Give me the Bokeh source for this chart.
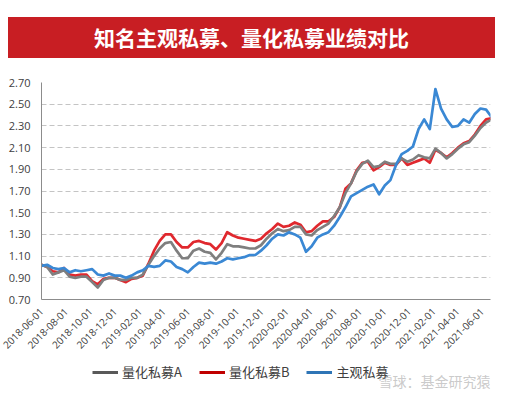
import pandas as pd
from bokeh.plotting import figure
from bokeh.models import (Range1d, FixedTicker, NumeralTickFormatter, Legend,
                          LegendItem, Label, Div)
from bokeh.layouts import column
from bokeh.embed import file_html
from bokeh.resources import INLINE

title = "知名主观私募、量化私募业绩对比"
series_names = ["量化私募A", "量化私募B", "主观私募"]
watermark = "雪球：基金研究猿"

# observation dates (fortnightly)
dates = pd.date_range("2018-06-01", periods=81, freq="14D")

quant_a = [1.02, 1.00, 0.93, 0.95, 0.97, 0.91, 0.90, 0.91, 0.91, 0.86,
           0.81, 0.88, 0.90, 0.90, 0.88, 0.88, 0.90, 0.90, 0.93, 1.02,
           1.10, 1.17, 1.22, 1.23, 1.15, 1.08, 1.08, 1.15, 1.17, 1.14,
           1.13, 1.07, 1.13, 1.21, 1.19, 1.19, 1.18, 1.17, 1.17, 1.20,
           1.26, 1.31, 1.35, 1.33, 1.34, 1.37, 1.37, 1.30, 1.29, 1.34,
           1.37, 1.40, 1.47, 1.55, 1.68, 1.77, 1.88, 1.95, 1.98, 1.92,
           1.93, 1.97, 1.95, 1.95, 2.00, 1.97, 1.99, 2.03, 2.01, 2.00,
           2.09, 2.05, 2.00, 2.04, 2.09, 2.13, 2.15, 2.21, 2.28, 2.33, 2.36]

quant_b = [1.02, 1.00, 0.96, 0.95, 0.99, 0.93, 0.92, 0.93, 0.93, 0.87,
           0.84, 0.89, 0.90, 0.90, 0.88, 0.86, 0.89, 0.90, 0.92, 1.03,
           1.15, 1.24, 1.30, 1.30, 1.23, 1.18, 1.18, 1.23, 1.24, 1.22,
           1.21, 1.16, 1.22, 1.32, 1.29, 1.27, 1.26, 1.25, 1.24, 1.26,
           1.31, 1.35, 1.40, 1.37, 1.38, 1.41, 1.39, 1.32, 1.33, 1.38,
           1.42, 1.42, 1.46, 1.55, 1.72, 1.77, 1.89, 1.96, 1.97, 1.89,
           1.92, 1.96, 1.94, 1.94, 2.00, 1.94, 1.96, 1.98, 2.00, 1.96,
           2.08, 2.05, 2.01, 2.05, 2.10, 2.14, 2.16, 2.22, 2.30, 2.36, 2.37]

subjective = [1.01, 1.02, 0.99, 0.98, 0.99, 0.95, 0.97, 0.96, 0.97, 0.98,
              0.93, 0.92, 0.94, 0.92, 0.92, 0.90, 0.92, 0.95, 0.97, 1.01,
              1.00, 1.01, 1.06, 1.05, 1.00, 0.98, 0.95, 1.00, 1.04, 1.03,
              1.04, 1.03, 1.05, 1.08, 1.07, 1.08, 1.09, 1.11, 1.11, 1.15,
              1.20, 1.26, 1.30, 1.29, 1.32, 1.30, 1.27, 1.14, 1.19, 1.27,
              1.30, 1.32, 1.38, 1.46, 1.55, 1.65, 1.68, 1.71, 1.74, 1.76,
              1.67, 1.75, 1.80, 1.94, 2.04, 2.07, 2.11, 2.27, 2.36, 2.27,
              2.64, 2.46, 2.36, 2.29, 2.30, 2.36, 2.33, 2.41, 2.46, 2.45, 2.38]

x_tick_labels = ["2018-06-01", "2018-08-01", "2018-10-01", "2018-12-01",
                 "2019-02-01", "2019-04-01", "2019-06-01", "2019-08-01",
                 "2019-10-01", "2019-12-01", "2020-02-01", "2020-04-01",
                 "2020-06-01", "2020-08-01", "2020-10-01", "2020-12-01",
                 "2021-02-01", "2021-04-01", "2021-06-01"]
y_ticks = [0.70, 0.90, 1.10, 1.30, 1.50, 1.70, 1.90, 2.10, 2.30, 2.50, 2.70]

line_colors = ["#7F7F7F", "#E0282E", "#3A88D4"]
legend_colors = ["#595959", "#C00000", "#2E75B6"]

# ---- title banner ----
banner = Div(
    text=('<div style="margin:17px 0 0 8px;width:487px;height:41px;'
          'background:#C81E23;color:#ffffff;font-family:\'Noto Sans CJK SC\';'
          'font-weight:bold;font-size:21px;line-height:41px;text-align:center;">'
          + title + '</div>'),
    width=500, height=58, margin=0)

# ---- main chart ----
x_start = pd.Timestamp("2018-06-01")
x_end = pd.Timestamp("2021-06-22")

p = figure(width=500, height=300, x_axis_type="datetime",
           x_range=Range1d(x_start, x_end), y_range=Range1d(0.70, 2.70),
           output_backend="svg", toolbar_location=None,
           min_border_left=41, min_border_right=10, min_border_top=24,
           min_border_bottom=59)
p.outline_line_color = None
p.background_fill_color = "white"
p.border_fill_color = "white"

tick_ts = pd.to_datetime(x_tick_labels)
tick_ms = [float(t.value // 10**6) for t in tick_ts]
p.xaxis.ticker = FixedTicker(ticks=tick_ms)
p.xaxis.major_label_overrides = {ms: lab for ms, lab in zip(tick_ms, x_tick_labels)}
p.xaxis.major_label_orientation = 0.785398
p.yaxis.ticker = FixedTicker(ticks=y_ticks)
p.yaxis.formatter = NumeralTickFormatter(format="0.00")

for ax in (p.xaxis, p.yaxis):
    ax.axis_line_color = "#8C8C8C"
    ax.axis_line_width = 1
    ax.major_tick_line_color = None
    ax.minor_tick_line_color = None
    ax.major_label_text_font = "Open Sans"
    ax.major_label_text_color = "#404040"
p.yaxis.major_label_text_font_size = "11px"
p.xaxis.major_label_text_font_size = "10px"
p.yaxis.major_label_standoff = 5
p.xaxis.major_label_standoff = 4

p.xgrid.grid_line_color = None
p.ygrid.grid_line_color = "#C4C4C4"
p.ygrid.grid_line_dash = "5 3"
p.ygrid.grid_line_width = 1

series = [quant_a, quant_b, subjective]
for idx in [1, 0, 2]:
    p.line(dates, series[idx], line_color=line_colors[idx], line_width=2.7,
           line_join="round")

# ---- legend strip ----
lg = figure(width=500, height=37, x_range=Range1d(0, 449), y_range=Range1d(0, 37),
            output_backend="svg", toolbar_location=None,
            x_axis_location=None, y_axis_location=None,
            min_border_left=41, min_border_right=10, min_border_top=0,
            min_border_bottom=0)
lg.outline_line_color = None
lg.background_fill_color = "white"
lg.border_fill_color = "white"
lg.xgrid.visible = False
lg.ygrid.visible = False

items = []
for idx, (name, col) in enumerate(zip(series_names, legend_colors)):
    # legend-only proxy of each series (lies outside this strip's ranges)
    r = lg.line(dates, series[idx], line_color=col, line_width=3)
    items.append(LegendItem(label=name, renderers=[r]))

legend = Legend(items=items, orientation="horizontal", location=(51, 14),
                border_line_color=None, background_fill_alpha=0, padding=0,
                spacing=17, glyph_width=26, glyph_height=16, label_standoff=4,
                label_height=16,
                label_text_font="Noto Sans CJK SC", label_text_font_size="13px",
                label_text_color="#404040", margin=0)
lg.add_layout(legend)

lg.add_layout(Label(x=337, y=15, text=watermark, text_font="Noto Sans CJK SC",
                    text_font_size="14px", text_color="#C4C4C4",
                    text_alpha=0.9, text_baseline="middle"))

layout = column(banner, p, lg, spacing=0)
open("out.html", "w").write(file_html(layout, INLINE))
